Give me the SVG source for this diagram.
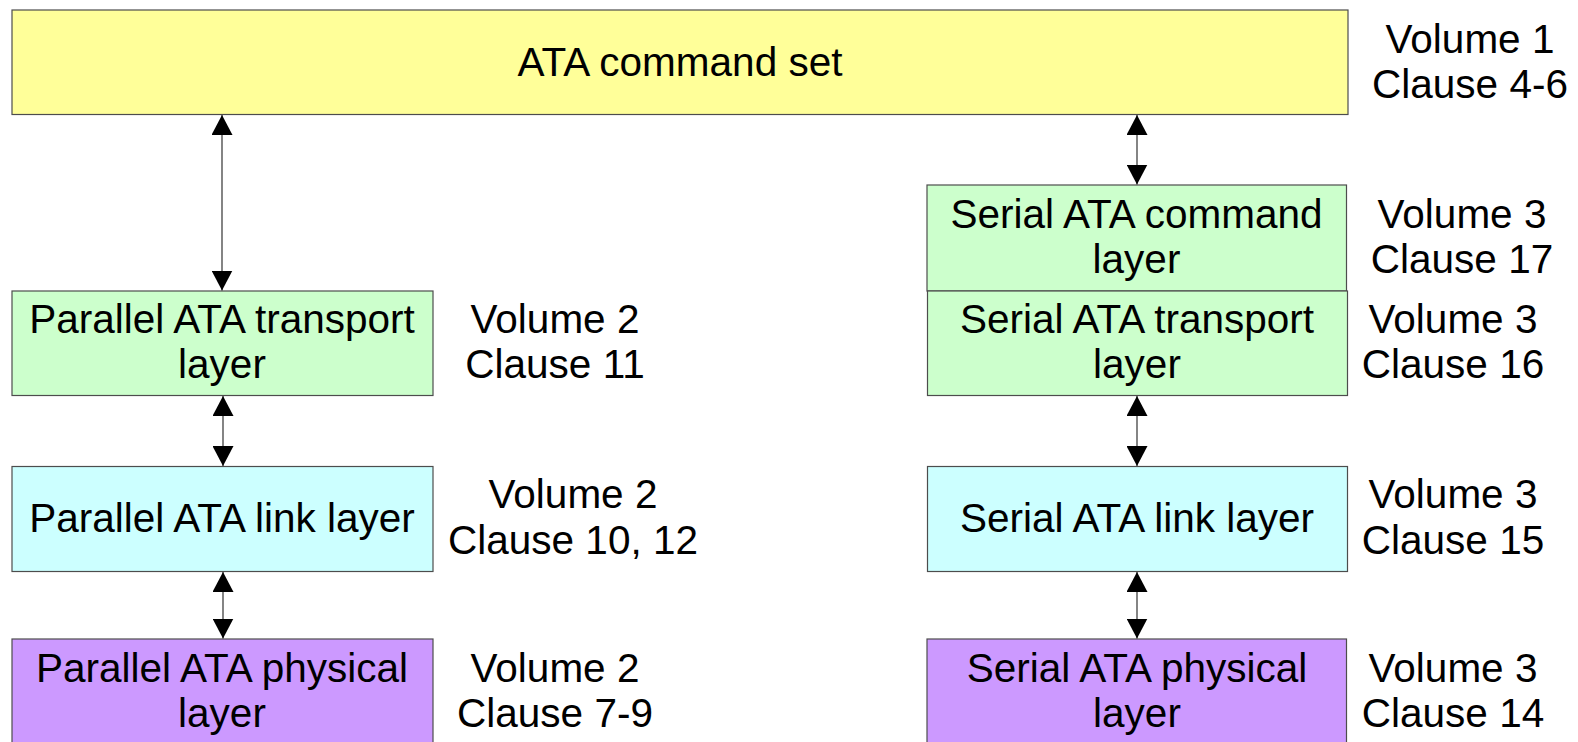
<svg xmlns="http://www.w3.org/2000/svg" width="1578" height="742" viewBox="0 0 1578 742">
<style>
.box{stroke:#4d4d4d;stroke-width:1.2}
.y{fill:#FFFF99}.g{fill:#CCFFCC}.c{fill:#CCFFFF}.p{fill:#CC99FF}
text{font-family:"Liberation Sans",Arial,sans-serif;font-size:40.5px;fill:#000;text-anchor:middle}
.conn line{stroke:#333;stroke-width:1.2;marker-start:url(#ah);marker-end:url(#ah)}
</style>
<defs>
<marker id="ah" viewBox="0 0 20 21" refX="20" refY="10.5" markerWidth="20" markerHeight="21" markerUnits="userSpaceOnUse" orient="auto-start-reverse">
<path d="M0,0 L20,10.5 L0,21 z" fill="#000"/>
</marker>
</defs>
<rect width="1578" height="742" fill="#fff"/>
<g id="cmdset">
<rect class="box y" x="12" y="10" width="1336" height="104.5"/>
<text x="680" y="76">ATA command set</text>
<text x="1470" y="52.5">Volume 1</text>
<text x="1470" y="97.5">Clause 4-6</text>
</g>
<g id="pata-transport">
<rect class="box g" x="12" y="291" width="421" height="104.5"/>
<text x="222" y="333">Parallel ATA transport</text>
<text x="222" y="378">layer</text>
<text x="555" y="333">Volume 2</text>
<text x="555" y="378">Clause 11</text>
</g>
<g id="pata-link">
<rect class="box c" x="12" y="466.5" width="421" height="105"/>
<text x="222" y="532">Parallel ATA link layer</text>
<text x="573" y="508">Volume 2</text>
<text x="573" y="554">Clause 10, 12</text>
</g>
<g id="pata-phys">
<rect class="box p" x="12" y="639" width="421" height="106"/>
<text x="222" y="682">Parallel ATA physical</text>
<text x="222" y="727">layer</text>
<text x="555" y="682">Volume 2</text>
<text x="555" y="727">Clause 7-9</text>
</g>
<g id="sata-cmd">
<rect class="box g" x="927" y="185" width="419.5" height="106"/>
<text x="1136.5" y="228">Serial ATA command</text>
<text x="1136.5" y="273">layer</text>
<text x="1462" y="228">Volume 3</text>
<text x="1462" y="273">Clause 17</text>
</g>
<g id="sata-transport">
<rect class="box g" x="927.5" y="291" width="420" height="104.5"/>
<text x="1137" y="333">Serial ATA transport</text>
<text x="1137" y="378">layer</text>
<text x="1453" y="333">Volume 3</text>
<text x="1453" y="378">Clause 16</text>
</g>
<g id="sata-link">
<rect class="box c" x="927.5" y="466.5" width="420" height="105"/>
<text x="1137" y="532">Serial ATA link layer</text>
<text x="1453" y="508">Volume 3</text>
<text x="1453" y="554">Clause 15</text>
</g>
<g id="sata-phys">
<rect class="box p" x="927" y="639" width="419.5" height="106"/>
<text x="1137" y="682">Serial ATA physical</text>
<text x="1137" y="727">layer</text>
<text x="1453" y="682">Volume 3</text>
<text x="1453" y="727">Clause 14</text>
</g>
<g id="connectors" class="conn">
<line x1="222" y1="115" x2="222" y2="290.5"/>
<line x1="223" y1="396" x2="223" y2="466"/>
<line x1="223" y1="572" x2="223" y2="638.5"/>
<line x1="1137" y1="115" x2="1137" y2="184.5"/>
<line x1="1137" y1="396" x2="1137" y2="466"/>
<line x1="1137" y1="572" x2="1137" y2="638.5"/>
</g>
</svg>
